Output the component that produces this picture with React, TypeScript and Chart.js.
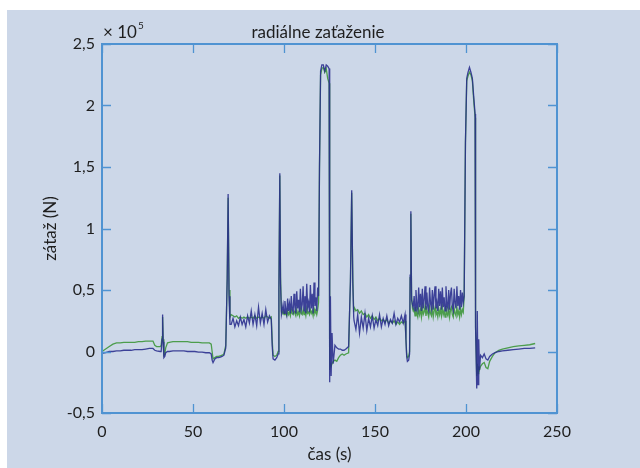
import React, { useEffect, useRef } from "react";
import { Chart, registerables } from "chart.js";

Chart.register(...registerables);

// time (s)
const timeS = [
  0, 2, 4, 6, 8, 10, 12, 14, 16, 18, 20, 22, 24, 26, 28, 29, 30, 32,
  32.5, 33, 33.3, 33.6, 34, 34.5, 35, 36,
  37, 39, 41, 43, 45, 47, 49, 51, 53, 55, 57, 59,
  60, 60.5, 61, 62, 63, 64, 65, 66, 67,
  68, 68.8, 69.3, 69.8, 70.3,
  71, 72, 73, 74, 75, 76, 77, 78, 79, 80, 81, 82, 83, 84, 85, 86, 87, 88, 89, 90, 91, 92, 93,
  93.5, 94, 95, 96, 96.8,
  97.2, 97.7, 98.1, 98.6,
  99, 99.5, 100, 100.5, 101, 101.5, 102, 102.5, 103, 103.5,
  104, 104.5, 105, 105.5, 106, 106.5, 107, 107.5, 108, 108.5,
  109, 109.5, 110, 110.5, 111, 111.5, 112, 112.5, 113, 113.5,
  114, 114.5, 115, 115.5, 116, 116.5, 117, 117.5, 118, 118.5,
  119, 119.5, 120.1, 120.8, 121.6, 122.4, 123.2, 124, 124.8, 125, 125.2,
  125.5, 125.9, 126.4, 127, 128, 129, 130, 131, 132, 133, 134, 135.5,
  136, 136.5, 137.2, 137.8, 138.3,
  138.5, 139.5, 140.5, 141.5, 142.5, 143.5, 144.5, 145.5, 146.5, 147.5,
  148.5, 149.5, 150.5, 151.5, 152.5, 153.5, 154.5, 155.5, 156.5, 157.5,
  158.5, 159.5, 160.5, 161.5, 162.5, 163.5, 164.5, 165.5, 166.5,
  167, 167.4, 167.8, 168.5, 169,
  169.3, 169.7, 170.1, 170.6,
  171, 171.5, 172, 172.5, 173, 173.5, 174, 174.5, 175, 175.5,
  176, 176.5, 177, 177.5, 178, 178.5, 179, 179.5, 180, 180.5,
  181, 181.5, 182, 182.5, 183, 183.5, 184, 184.5, 185, 185.5,
  186, 186.5, 187, 187.5, 188, 188.5, 189, 189.5, 190, 190.5,
  191, 191.5, 192, 192.5, 193, 193.5, 194, 194.5, 195, 195.5,
  196, 196.5, 197, 197.5, 198, 198.5,
  199, 199.7, 200.4, 201.1, 201.9, 202.7, 203.5, 204.2, 205, 205.25,
  205.9, 206.2, 206.6, 207, 207.4, 208, 209, 210, 211, 212, 213, 214.5, 216, 218, 220, 223,
  226, 229, 232, 235, 238,
];

// load, x 10^5 N (green trace)
const loadGreen = [
  0, 0.02, 0.04, 0.06, 0.07, 0.07, 0.075, 0.075, 0.075, 0.075, 0.08, 0.08, 0.085, 0.085, 0.085, 0.05, 0.04, 0.04,
  0.05, 0.12, 0.28, 0.1, -0.03, -0.02, 0.03, 0.07,
  0.075, 0.08, 0.08, 0.08, 0.08, 0.08, 0.075, 0.075, 0.075, 0.07, 0.07, 0.07,
  0.06, 0, -0.06, -0.05, -0.04, -0.04, -0.035, -0.03, -0.02,
  0.05, 0.6, 1.25, 0.5, 0.28,
  0.3, 0.29, 0.28, 0.29, 0.27, 0.28, 0.27, 0.28, 0.27, 0.28, 0.27, 0.28, 0.27, 0.29, 0.27, 0.28, 0.27, 0.28, 0.27, 0.29, 0.28, 0.27, 0.28,
  0.1, -0.03, -0.04, -0.03, 0,
  0.5, 1.43, 0.6, 0.32,
  0.31, 0.33, 0.3, 0.32, 0.31, 0.29, 0.33, 0.3, 0.32, 0.29,
  0.34, 0.31, 0.3, 0.33, 0.31, 0.29, 0.34, 0.3, 0.32, 0.29,
  0.35, 0.31, 0.3, 0.34, 0.3, 0.33, 0.29, 0.35, 0.31, 0.32,
  0.3, 0.34, 0.31, 0.33, 0.29, 0.35, 0.31, 0.33, 0.3, 0.34,
  0.4, 1.5, 2.25, 2.3, 2.31, 2.27, 2.3, 2.22, 2.18, 1.2, -0.15,
  -0.1, -0.12, -0.1, -0.08, -0.07, -0.08, -0.05, -0.03, -0.02, -0.03, -0.02, -0.01,
  0.3, 0.55, 1.29, 0.6, 0.32,
  0.36, 0.33, 0.34, 0.31, 0.33, 0.3, 0.31, 0.28, 0.3, 0.27,
  0.29, 0.26, 0.28, 0.25, 0.27, 0.25, 0.26, 0.24, 0.26, 0.23,
  0.25, 0.23, 0.25, 0.22, 0.24, 0.22, 0.24, 0.23, 0.25,
  0.1, -0.02, -0.05, -0.04, 0,
  0.6, 1.12, 0.45, 0.35,
  0.33, 0.35, 0.29, 0.36, 0.31, 0.28, 0.35, 0.3, 0.34, 0.28,
  0.36, 0.3, 0.32, 0.37, 0.29, 0.34, 0.31, 0.28, 0.36, 0.31,
  0.29, 0.35, 0.28, 0.33, 0.36, 0.3, 0.32, 0.28, 0.35, 0.3,
  0.34, 0.29, 0.36, 0.3, 0.33, 0.28, 0.37, 0.31, 0.29, 0.35,
  0.28, 0.34, 0.36, 0.3, 0.28, 0.35, 0.31, 0.29, 0.36, 0.3,
  0.33, 0.28, 0.35, 0.3, 0.34, 0.32,
  0.45, 1.7, 2.2, 2.24, 2.27, 2.25, 2.2, 2.05, 1.9, 0.2,
  -0.2, -0.1, -0.18, -0.12, -0.15, -0.12, -0.1, -0.09, -0.13, -0.14, -0.08, -0.04, -0.01, 0.01, 0.02, 0.03,
  0.04, 0.045, 0.05, 0.055, 0.065,
];

// load, x 10^5 N (blue trace)
const loadBlue = [
  -0.015, -0.01, 0, 0, 0.005, 0.005, 0.01, 0.01, 0.01, 0.015, 0.015, 0.015, 0.02, 0.025, 0.025, 0.01, 0.005, 0,
  0, 0.1, 0.3, 0.08, -0.05, -0.04, -0.01, 0,
  0, 0.005, 0.005, 0.005, 0.005, 0, 0, 0, -0.005, -0.005, -0.01, -0.01,
  -0.02, -0.07, -0.09, -0.06, -0.05, -0.05, -0.045, -0.04, -0.03,
  0.03, 0.6, 1.28, 0.45, 0.22,
  0.22, 0.27, 0.2, 0.25, 0.21, 0.28, 0.22, 0.26, 0.2, 0.29, 0.23, 0.33, 0.22, 0.3, 0.21, 0.36, 0.23, 0.31, 0.22, 0.34, 0.24, 0.29, 0.26,
  0.05, -0.06, -0.07, -0.05, -0.02,
  0.5, 1.45, 0.55, 0.3,
  0.33, 0.38, 0.31, 0.41, 0.34, 0.3, 0.43, 0.33, 0.39, 0.31,
  0.45, 0.34, 0.32, 0.47, 0.36, 0.31, 0.49, 0.35, 0.42, 0.32,
  0.51, 0.34, 0.38, 0.53, 0.33, 0.45, 0.31, 0.55, 0.36, 0.4,
  0.32, 0.54, 0.35, 0.47, 0.31, 0.56, 0.37, 0.44, 0.33, 0.52,
  0.45, 1.5, 2.28, 2.33, 2.33, 2.28, 2.33, 2.32, 2.3, 1.2, -0.25,
  0.45, -0.2, 0.15, -0.1, 0.05, 0.03, 0.02, 0.02, 0.01, 0.01, 0.02, 0.04,
  0.3, 0.57, 1.31, 0.55, 0.28,
  0.25, 0.18, 0.3, 0.15, 0.28, 0.19, 0.31, 0.17, 0.27, 0.2,
  0.29, 0.19, 0.26, 0.21, 0.3, 0.2, 0.27, 0.22, 0.29, 0.21,
  0.26, 0.23, 0.31, 0.22, 0.27, 0.24, 0.29, 0.23, 0.3,
  0.1, -0.04, -0.08, -0.07, -0.02,
  0.62, 1.14, 0.42, 0.38,
  0.36, 0.45, 0.33, 0.5, 0.38, 0.34, 0.52, 0.36, 0.47, 0.33,
  0.51, 0.35, 0.42, 0.53, 0.34, 0.48, 0.36, 0.33, 0.52, 0.39,
  0.35, 0.5, 0.34, 0.46, 0.53, 0.35, 0.4, 0.33, 0.51, 0.37,
  0.49, 0.34, 0.52, 0.36, 0.44, 0.33, 0.53, 0.38, 0.35, 0.5,
  0.34, 0.47, 0.52, 0.36, 0.33, 0.51, 0.39, 0.35, 0.53, 0.37,
  0.45, 0.34, 0.5, 0.36, 0.48, 0.4,
  0.45, 1.7, 2.22, 2.27, 2.31, 2.27, 2.22, 2.08, 1.93, 0.2,
  -0.3, 0.33, -0.27, 0.1, -0.15, -0.03, -0.05, -0.02, -0.06, -0.07, -0.04, -0.02, -0.01, 0, 0.005, 0.01,
  0.015, 0.02, 0.025, 0.025, 0.03,
];

const xTickValues = [0, 50, 100, 150, 200, 250];
const yTickValues = [-0.5, 0, 0.5, 1, 1.5, 2, 2.5];
const chartTitle = "radiálne zaťaženie";
const xAxisTitle = "čas (s)";
const yAxisTitle = "zátaž (N)";
const multiplierText = "× 10";
const exponentText = "5";

const W = 640;
const H = 468;
const AREA = { left: 102, top: 44, right: 557, bottom: 413 };
const FONT = "Lato, 'Open Sans', sans-serif";
const TEXT = "#1e1e1e";
const AXIS = "#4f93d2";
const BG = "#ccd7e8";

const framePlugin = {
  id: "frame",
  beforeDraw(chart: any) {
    const ctx = chart.ctx;
    ctx.save();
    ctx.fillStyle = "#ffffff";
    ctx.fillRect(0, 0, W, H);
    ctx.fillStyle = BG;
    ctx.fillRect(7, 10, W - 7, H - 10);
    ctx.restore();
  },
  afterDatasetsDraw(chart: any) {
    const ctx = chart.ctx;
    const { left, right, top, bottom } = chart.chartArea;
    const xs = chart.scales.x;
    const ys = chart.scales.y;
    ctx.save();
    ctx.strokeStyle = AXIS;
    ctx.lineWidth = 1.3;
    const tl = 9;
    ctx.beginPath();
    xTickValues.forEach((v) => {
      const px = Math.round(xs.getPixelForValue(v)) + 0.5;
      ctx.moveTo(px, bottom);
      ctx.lineTo(px, bottom - tl);
      ctx.moveTo(px, top);
      ctx.lineTo(px, top + tl);
    });
    yTickValues.forEach((v) => {
      const py = Math.round(ys.getPixelForValue(v)) + 0.5;
      ctx.moveTo(left, py);
      ctx.lineTo(left + tl, py);
      ctx.moveTo(right, py);
      ctx.lineTo(right - tl, py);
    });
    ctx.stroke();
    ctx.lineWidth = 2;
    ctx.strokeRect(left, top, right - left, bottom - top);
    ctx.restore();
  },
  afterDraw(chart: any) {
    const ctx = chart.ctx;
    const { left } = chart.chartArea;
    ctx.save();
    ctx.fillStyle = TEXT;
    ctx.textBaseline = "alphabetic";
    ctx.textAlign = "center";
    ctx.font = `17px ${FONT}`;
    ctx.fillText(chartTitle, 318, 38);
    ctx.textAlign = "left";
    ctx.font = `17px ${FONT}`;
    ctx.fillText(multiplierText, left + 1, 38);
    const w = ctx.measureText(multiplierText).width;
    ctx.font = `10px ${FONT}`;
    ctx.fillText(exponentText, left + 2 + w, 29);
    ctx.restore();
  },
};

export default function App() {
  const ref = useRef<HTMLCanvasElement | null>(null);

  useEffect(() => {
    if (!ref.current) return;
    const font = { family: FONT, size: 16 };
    const chart = new Chart(ref.current, {
      type: "line",
      data: {
        datasets: [
          {
            label: "blue",
            data: timeS.map((t, i) => ({ x: t, y: loadBlue[i] })),
            borderColor: "rgba(40, 44, 140, 0.88)",
            borderWidth: 1.3,
            pointRadius: 0,
            tension: 0,
            fill: false,
          },
          {
            label: "green",
            data: timeS.map((t, i) => ({ x: t, y: loadGreen[i] })),
            borderColor: "#4c9d4c",
            borderWidth: 1.3,
            pointRadius: 0,
            tension: 0,
            fill: false,
          },
        ],
      },
      options: {
        animation: false,
        responsive: false,
        events: [],
        layout: { padding: { left: 0, top: AREA.top, right: W - AREA.right, bottom: 0 } },
        plugins: { legend: { display: false }, title: { display: false }, tooltip: { enabled: false } },
        scales: {
          x: {
            type: "linear",
            min: 0,
            max: 250,
            afterBuildTicks: (s: any) => {
              s.ticks = xTickValues.map((v) => ({ value: v }));
            },
            afterFit: (s: any) => {
              s.height = H - AREA.bottom;
            },
            grid: { display: false, drawTicks: false },
            border: { display: false },
            ticks: { font, color: TEXT, padding: 9, maxRotation: 0, autoSkip: false },
            title: {
              display: true,
              text: xAxisTitle,
              font: { family: FONT, size: 17 },
              color: TEXT,
              padding: { top: 0, bottom: 3 },
            },
          },
          y: {
            type: "linear",
            min: -0.5,
            max: 2.5,
            afterBuildTicks: (s: any) => {
              s.ticks = yTickValues.map((v) => ({ value: v }));
            },
            afterFit: (s: any) => {
              s.width = AREA.left;
            },
            grid: { display: false, drawTicks: false },
            border: { display: false },
            ticks: {
              font,
              color: TEXT,
              padding: 7,
              autoSkip: false,
              callback: (v: any) => String(v).replace(".", ","),
            },
            title: {
              display: true,
              text: yAxisTitle,
              font: { family: FONT, size: 17 },
              color: TEXT,
              padding: { top: 40, bottom: 0 },
            },
          },
        },
      },
      plugins: [framePlugin],
    } as any);
    return () => chart.destroy();
  }, []);

  return (
    <div style={{ position: "fixed", left: 0, top: 0, width: W, height: H }}>
      <canvas ref={ref} width={W} height={H} style={{ display: "block", width: W, height: H }} />
    </div>
  );
}
